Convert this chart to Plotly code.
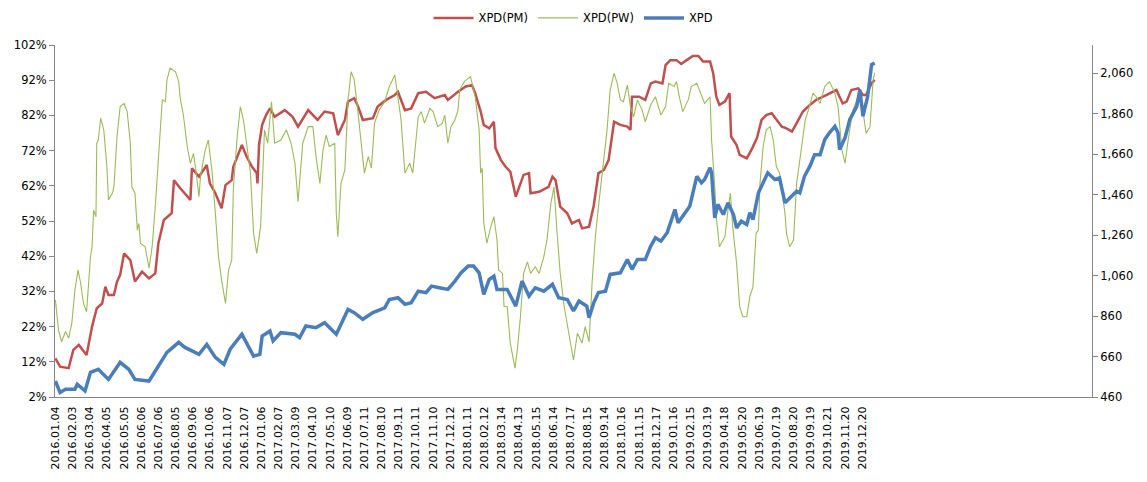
import plotly.graph_objects as go

# ---- category (tick) labels: every 22nd trading day ----
tick_labels = ["2016.01.04", "2016.02.03", "2016.03.04", "2016.04.05", "2016.05.05", "2016.06.06",
               "2016.07.06", "2016.08.05", "2016.09.06", "2016.10.06", "2016.11.07", "2016.12.07",
               "2017.01.06", "2017.02.07", "2017.03.09", "2017.04.10", "2017.05.10", "2017.06.09",
               "2017.07.11", "2017.08.10", "2017.09.11", "2017.10.11", "2017.11.10", "2017.12.12",
               "2018.01.11", "2018.02.12", "2018.03.14", "2018.04.13", "2018.05.15", "2018.06.14",
               "2018.07.17", "2018.08.15", "2018.09.14", "2018.10.16", "2018.11.15", "2018.12.17",
               "2019.01.16", "2019.02.15", "2019.03.19", "2019.04.18", "2019.05.20", "2019.06.19",
               "2019.07.19", "2019.08.20", "2019.09.19", "2019.10.21", "2019.11.20", "2019.12.20"]
label_step = 22
n_categories = 1329

# ---- XPD(PM) (%) : trading-day index, value ----
pm_day = [0, 6, 17, 23, 30, 40, 47, 53, 60, 64, 68, 75, 79, 83, 88, 96, 102, 111, 120, 128,
          132, 139, 149, 152, 160, 166, 173, 175, 184, 194, 198, 205, 213, 218, 226, 228, 235, 239, 245, 252,
          258, 259, 261, 265, 270, 275, 281, 294, 304, 311, 324, 336, 345, 356, 362, 371, 375, 383, 388, 394,
          407, 413, 424, 435, 439, 448, 456, 465, 475, 486, 499, 503, 516, 526, 534, 538, 545, 549, 556, 562,
          564, 571, 577, 583, 590, 594, 600, 607, 609, 620, 632, 637, 641, 647, 656, 662, 671, 675, 684, 690,
          696, 703, 709, 716, 724, 733, 737, 739, 748, 756, 763, 769, 778, 782, 788, 796, 802, 809, 817, 824,
          830, 839, 843, 847, 851, 858, 864, 866, 873, 877, 886, 892, 899, 905, 911, 918, 924, 931, 937, 944,
          950, 958, 967, 975, 984, 992, 1001, 1005, 1009, 1014, 1020, 1029, 1035, 1039, 1046, 1050]
pm_val = [13.0, 10.6, 10.2, 15.4, 16.8, 13.9, 22.0, 27.2, 28.6, 33.3, 31.0, 31.0, 34.8, 36.7, 42.8, 40.9, 34.8, 37.6, 35.7, 37.1,
          45.7, 52.3, 54.2, 63.6, 61.3, 59.9, 58.0, 67.0, 64.6, 67.9, 62.7, 59.9, 55.6, 62.2, 63.6, 67.4, 71.7, 73.6, 70.3, 67.4,
          65.6, 62.7, 73.6, 79.3, 82.1, 84.0, 81.6, 83.5, 81.6, 78.8, 83.5, 80.7, 83.1, 82.6, 76.4, 80.7, 85.9, 86.9, 84.5, 80.7,
          81.2, 84.5, 86.4, 87.8, 88.7, 83.5, 84.0, 88.3, 88.7, 86.9, 87.8, 86.4, 88.7, 90.2, 90.6, 88.3, 83.1, 79.3, 78.3, 80.2,
          72.7, 69.3, 67.4, 66.0, 58.9, 61.3, 65.1, 65.6, 59.9, 60.3, 61.7, 64.6, 63.6, 56.1, 54.2, 51.3, 52.3, 49.9, 50.4, 56.5,
          65.6, 66.5, 69.3, 80.2, 79.3, 78.8, 77.9, 87.3, 87.3, 86.4, 91.1, 91.6, 91.1, 96.3, 97.7, 97.7, 96.6, 97.7, 98.9, 98.9,
          97.3, 97.3, 94.0, 87.3, 85.0, 85.9, 88.3, 76.0, 73.6, 70.8, 69.8, 72.2, 75.5, 80.7, 82.1, 82.6, 80.7, 78.8, 78.3, 77.4,
          79.8, 83.1, 85.0, 86.4, 87.3, 88.3, 89.2, 87.3, 85.4, 85.9, 89.2, 89.7, 87.8, 87.8, 91.1, 92.1]

# ---- XPD(PW) (%) ----
pw_day = [0, 4, 8, 13, 17, 21, 25, 29, 32, 36, 40, 45, 47, 49, 52, 53, 55, 58, 62, 64,
          66, 68, 73, 75, 79, 83, 88, 92, 96, 98, 102, 105, 107, 109, 115, 120, 124, 128, 132, 137,
          141, 143, 147, 154, 158, 160, 164, 169, 173, 177, 181, 184, 186, 192, 196, 201, 205, 209, 213, 218,
          222, 226, 228, 233, 237, 241, 245, 250, 254, 258, 263, 266, 268, 272, 277, 281, 289, 296, 302, 307,
          311, 317, 324, 330, 334, 339, 343, 347, 351, 358, 360, 362, 366, 371, 375, 379, 383, 387, 392, 396,
          401, 405, 409, 415, 422, 428, 435, 439, 443, 448, 454, 458, 460, 465, 469, 473, 480, 484, 490, 496,
          499, 503, 507, 512, 516, 518, 524, 529, 532, 538, 543, 545, 547, 549, 553, 558, 562, 566, 568, 573,
          575, 579, 583, 589, 592, 596, 600, 605, 609, 615, 620, 626, 630, 635, 639, 643, 647, 652, 658, 664,
          669, 675, 679, 684, 688, 692, 696, 701, 707, 711, 716, 720, 724, 728, 733, 737, 741, 746, 752, 756,
          763, 769, 776, 782, 786, 793, 796, 800, 804, 811, 815, 822, 828, 832, 839, 841, 845, 847, 851, 858,
          862, 865, 868, 873, 877, 881, 886, 890, 894, 898, 901, 903, 907, 911, 916, 920, 924, 928, 935, 937,
          941, 946, 950, 956, 961, 965, 971, 975, 980, 986, 992, 999, 1003, 1008, 1012, 1016, 1022, 1029, 1035, 1039,
          1044, 1048, 1050]
pw_val = [29.6, 21.0, 17.7, 20.6, 18.7, 22.9, 32.4, 38.1, 34.8, 28.6, 26.2, 41.9, 44.7, 55.1, 53.2, 74.1, 75.0, 81.2, 77.9, 73.1,
          67.4, 58.0, 59.9, 61.7, 76.0, 84.5, 85.4, 83.1, 74.1, 61.7, 59.9, 49.4, 51.3, 45.7, 44.7, 38.6, 44.7, 56.1, 68.8, 86.4,
          85.9, 92.1, 95.4, 94.4, 91.6, 86.9, 82.1, 73.1, 68.4, 71.2, 64.6, 58.9, 64.6, 72.2, 75.0, 65.6, 54.2, 41.9, 35.2, 28.6,
          38.1, 40.9, 60.8, 76.0, 84.5, 80.7, 74.1, 65.6, 48.5, 42.8, 50.4, 65.6, 77.9, 74.1, 85.9, 74.1, 75.0, 77.9, 74.1, 68.4,
          57.5, 74.1, 78.8, 78.8, 70.3, 62.7, 72.2, 76.4, 73.1, 74.1, 54.2, 47.5, 62.7, 66.5, 86.4, 94.4, 92.1, 84.5, 73.1, 65.6,
          70.3, 67.0, 79.8, 83.5, 85.9, 90.2, 93.5, 87.3, 80.7, 65.6, 68.4, 65.6, 69.8, 81.6, 83.1, 79.8, 84.0, 83.1, 78.8, 79.8,
          82.1, 74.1, 78.8, 80.7, 83.5, 89.2, 91.6, 92.5, 93.0, 87.3, 77.9, 65.6, 67.0, 51.3, 45.7, 50.4, 53.2, 46.6, 38.1, 37.1,
          27.7, 27.7, 17.3, 10.2, 15.4, 24.8, 37.1, 40.4, 37.1, 39.0, 37.1, 41.9, 46.6, 57.0, 61.7, 48.5, 37.1, 27.7, 20.1, 12.5,
          20.1, 17.3, 22.0, 17.7, 35.2, 47.5, 56.1, 65.6, 77.9, 89.2, 94.0, 91.1, 86.4, 85.9, 90.6, 84.5, 81.6, 86.4, 83.5, 80.2,
          85.0, 87.3, 82.1, 84.5, 91.1, 90.2, 91.6, 86.9, 83.1, 86.4, 90.2, 91.1, 87.8, 85.4, 87.3, 75.0, 61.7, 53.2, 44.7, 47.5,
          55.1, 59.9, 50.4, 40.0, 27.7, 24.8, 24.8, 30.5, 33.3, 48.5, 49.4, 62.7, 73.1, 77.9, 78.8, 75.0, 67.4, 65.6, 54.2, 48.5,
          44.7, 46.6, 62.7, 73.1, 80.7, 83.5, 88.3, 87.3, 85.4, 90.2, 91.6, 88.3, 84.5, 72.2, 68.4, 75.0, 83.5, 87.3, 83.1, 76.9,
          78.8, 92.1, 94.0]

# ---- XPD price (right axis) ----
xpd_day = [0, 6, 13, 25, 28, 38, 45, 55, 68, 83, 94, 102, 120, 132, 143, 158, 166, 184, 194, 205,
           216, 224, 239, 254, 262, 265, 275, 279, 289, 307, 313, 321, 334, 345, 360, 375, 383, 394, 407, 422,
           428, 439, 448, 456, 465, 475, 482, 492, 503, 512, 520, 529, 536, 543, 549, 556, 562, 566, 579, 590,
           598, 607, 615, 626, 637, 645, 656, 664, 671, 681, 684, 690, 696, 705, 711, 724, 733, 739, 746, 756,
           763, 769, 776, 784, 793, 794, 798, 807, 813, 822, 828, 832, 839, 841, 845, 849, 856, 862, 869, 873,
           879, 886, 890, 894, 901, 907, 913, 922, 928, 935, 943, 950, 954, 960, 967, 973, 980, 986, 992, 999,
           1003, 1005, 1012, 1018, 1027, 1031, 1035, 1041, 1046, 1050]
xpd_val = [539, 482, 498, 498, 523, 490, 582, 597, 547, 631, 597, 547, 539, 613, 681, 730, 705, 671, 720, 656,
           621, 696, 770, 662, 671, 761, 786, 737, 778, 770, 753, 811, 803, 827, 770, 893, 877, 844, 877, 901,
           942, 951, 918, 926, 983, 976, 1008, 1000, 992, 1033, 1074, 1107, 1107, 1074, 967, 1041, 1057, 992, 992, 909,
           1033, 959, 1000, 983, 1017, 951, 942, 885, 934, 909, 852, 926, 976, 983, 1066, 1074, 1140, 1091, 1140, 1140,
           1206, 1247, 1230, 1272, 1371, 1387, 1321, 1371, 1403, 1551, 1519, 1535, 1593, 1568, 1346, 1412, 1362, 1420, 1362, 1296,
           1329, 1313, 1371, 1337, 1469, 1519, 1568, 1535, 1543, 1420, 1453, 1477, 1469, 1551, 1601, 1658, 1658, 1733, 1766, 1798,
           1766, 1683, 1741, 1831, 1897, 1979, 1848, 1946, 2103, 2111]

left_ticks = list(range(2, 103, 10))
right_ticks = list(range(460, 2061, 200))

font_family = "DejaVu Sans, Verdana, sans-serif"
axis_col = "#868686"

fig = go.Figure()
fig.add_trace(go.Scatter(x=pm_day, y=pm_val, name="XPD(PM)", mode="lines",
                         line=dict(color="#C0504D", width=2.5)))
fig.add_trace(go.Scatter(x=pw_day, y=pw_val, name="XPD(PW)", mode="lines",
                         line=dict(color="#9BBB59", width=1.1)))
fig.add_trace(go.Scatter(x=xpd_day, y=xpd_val, name="XPD", mode="lines", yaxis="y2",
                         line=dict(color="#4A7EBB", width=3.5)))

tickvals = [i * label_step for i in range(len(tick_labels))]

fig.update_layout(
    width=1131, height=466,
    margin=dict(l=47, r=47, t=37, b=77, autoexpand=False),
    paper_bgcolor="white", plot_bgcolor="white",
    font=dict(family=font_family, size=11, color="#000000"),
    showlegend=True,
    legend=dict(orientation="h", x=0.5, xanchor="center", y=1.077, yanchor="middle",
                font=dict(size=11.5), itemwidth=40, traceorder="normal"),
    xaxis=dict(range=[-0.5, n_categories - 0.5], tickmode="array", tickvals=tickvals,
               ticktext=tick_labels, tickangle=-90, showgrid=False, zeroline=False,
               showline=True, linecolor=axis_col, linewidth=1, ticks="",
               ticklabelstandoff=4, tickfont=dict(size=11), automargin=False),
    yaxis=dict(range=[2, 102], tickmode="array", tickvals=left_ticks,
               ticktext=[f"{v}%" for v in left_ticks], showgrid=False, zeroline=False,
               showline=True, linecolor=axis_col, linewidth=1, ticks="outside",
               ticklen=5, tickcolor=axis_col, tickfont=dict(size=11.5), automargin=False),
    yaxis2=dict(range=[460, 2200], overlaying="y", side="right", tickmode="array",
                tickvals=right_ticks, ticktext=[f"{v:,}" for v in right_ticks],
                showgrid=False, zeroline=False, showline=True, linecolor=axis_col,
                linewidth=1, ticks="outside", ticklen=5, tickcolor=axis_col,
                tickfont=dict(size=11.5), automargin=False),
)

fig.write_html("out.html")
